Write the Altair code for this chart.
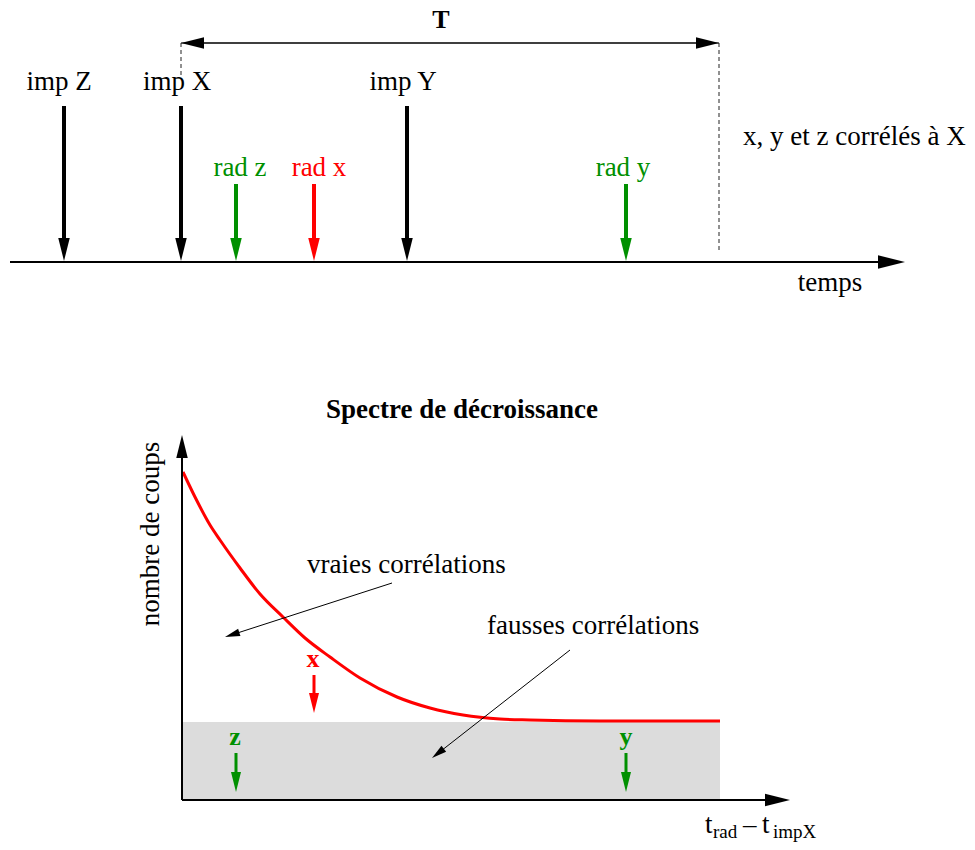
import math
import altair as alt
import pandas as pd

W, H, M = 975, 850, 8
PLOT_W, PLOT_H = W - 2 * M, H - 2 * M
FONT = "Liberation Serif"
BLACK, RED, GREEN, GREY = "#000000", "#ff0000", "#009000", "#dcdcdc"

# ---------------- top panel: time line ----------------
imp_names = ["imp Z", "imp X", "imp Y"]
imp_pos = [64, 181, 407]
imp_label_x = [59, 177, 403]
imp_top, event_tip, label_base_imp = 106, 261, 90

rad_names = ["rad z", "rad x", "rad y"]
rad_pos = [236, 314, 626]
rad_label_x = [240, 319, 623]
rad_colors = [GREEN, RED, GREEN]
rad_top, label_base_rad = 184, 176

timeline_x = [10, 905]
timeline_y = 262
window_x = [181, 719]      # T window (starts at imp X)
window_y = 43
window_dash_bottom = [75, 253]

top_texts = ["T", "x, y et z corrélés à X", "temps"]

# ---------------- bottom panel: decay spectrum ----------------
axis_origin = (182, 800)
yaxis_tip = 435
xaxis_tip = 790
background_x = [182, 720]
background_y = [722, 800]

curve_x = [183, 195, 210, 220, 240, 260, 283, 305, 330, 360, 397, 430, 463, 500, 530, 600, 660, 720]
curve_y = [472, 497, 525, 540, 568, 594, 617, 638, 657, 678, 697, 708, 715, 719, 720, 721, 721, 721]

mark_names = ["x", "z", "y"]
mark_x = [314, 236, 626]
mark_label_x = [313, 235, 626]
mark_top = [675, 753, 753]
mark_tip = [713, 792, 792]
mark_label_base = [667, 745, 745]
mark_colors = [RED, GREEN, GREEN]

notes = ["vraies corrélations", "fausses corrélations"]
notes_x = [307, 487]
notes_base = [573, 634]
notes_arrow_from = [(392, 583), (570, 650)]
notes_arrow_to = [(225, 637), (432, 758)]

# ---------------- build tables ----------------
arrows = []
for p in imp_pos:
    arrows.append((p, imp_top, p, event_tip, 4, 23, BLACK))
for p, c in zip(rad_pos, rad_colors):
    arrows.append((p, rad_top, p, event_tip, 4, 23, c))
arrows.append((timeline_x[0], timeline_y, timeline_x[1], timeline_y, 2, 27, BLACK))
arrows.append((window_x[0], window_y, window_x[1], window_y, 1.2, 23, BLACK))
arrows.append((window_x[1], window_y, window_x[0], window_y, 1.2, 23, BLACK))
arrows.append((axis_origin[0], axis_origin[1], axis_origin[0], yaxis_tip, 2, 23, BLACK))
arrows.append((axis_origin[0], axis_origin[1], xaxis_tip, axis_origin[1], 2, 25, BLACK))
for (a, b) in zip(notes_arrow_from, notes_arrow_to):
    arrows.append((a[0], a[1], b[0], b[1], 1, 15, BLACK))
for x, t0, t1, c in zip(mark_x, mark_top, mark_tip, mark_colors):
    arrows.append((x, t0, x, t1, 3, 20, c))

arr = pd.DataFrame(arrows, columns=["x0", "y0", "x1", "y1", "w", "h", "c"])
L = ((arr.x1 - arr.x0) ** 2 + (arr.y1 - arr.y0) ** 2) ** 0.5
ux, uy = (arr.x1 - arr.x0) / L, (arr.y1 - arr.y0) / L
arr["xe"] = arr.x1 - ux * arr.h * 0.6
arr["ye"] = arr.y1 - uy * arr.h * 0.6
arr["ang"] = [(math.degrees(math.atan2(-dx, dy)) + 360) % 360 for dx, dy in zip(ux, uy)]
arr["sz"] = arr.h ** 2

# data coordinates == page pixel coordinates
xs = alt.Scale(domain=[M, M + PLOT_W], nice=False, zero=False)
ys = alt.Scale(domain=[M, M + PLOT_H], nice=False, zero=False, reverse=True)


def X(f):
    return alt.X(f, type="quantitative", scale=xs, axis=None)


def Y(f):
    return alt.Y(f, type="quantitative", scale=ys, axis=None)


rect = alt.Chart(pd.DataFrame({"x0": [background_x[0]], "x1": [background_x[1]],
                               "y0": [background_y[0]], "y1": [background_y[1]]})).mark_rect(
    color=GREY).encode(x=X("x0"), x2="x1", y=Y("y0"), y2="y1")

curve = alt.Chart(pd.DataFrame({"x": curve_x, "y": curve_y})).mark_line(
    color=RED, strokeWidth=3, interpolate="monotone").encode(x=X("x"), y=Y("y"), order="x:Q")

dash_df = pd.DataFrame({"x": window_x, "y0": [window_y] * 2, "y1": window_dash_bottom})
dashes = alt.Chart(dash_df).mark_rule(color="#222222", strokeWidth=1, strokeDash=[4, 3]).encode(
    x=X("x"), y=Y("y0"), y2="y1")

shafts = alt.Chart(arr).mark_rule(strokeCap="butt").encode(
    x=X("x0"), y=Y("y0"), x2="xe", y2="ye",
    color=alt.Color("c:N", scale=None),
    strokeWidth=alt.StrokeWidth("w:Q", scale=None))

heads = alt.Chart(arr).mark_point(shape="M0,0L-0.5,-2L0.5,-2Z", filled=True, opacity=1,
                                  strokeWidth=0).encode(
    x=X("x1"), y=Y("y1"),
    color=alt.Color("c:N", scale=None),
    size=alt.Size("sz:Q", scale=None),
    angle=alt.Angle("ang:Q", scale=None))


def texts(df, **kw):
    base = dict(font=FONT, baseline="alphabetic", fontSize=27)
    base.update(kw)
    return alt.Chart(df).mark_text(**base).encode(
        x=X("x"), y=Y("y"), text="t:N", color=alt.Color("c:N", scale=None))


imp_df = pd.DataFrame({"x": imp_label_x, "y": [label_base_imp] * 3, "t": imp_names, "c": [BLACK] * 3})
rad_df = pd.DataFrame({"x": rad_label_x, "y": [label_base_rad] * 3, "t": rad_names, "c": rad_colors})
tc_df = pd.DataFrame({"x": [830], "y": [291], "t": [top_texts[2]], "c": [BLACK]})
left_df = pd.DataFrame({"x": [743] + notes_x, "y": [145] + notes_base,
                        "t": [top_texts[1]] + notes, "c": [BLACK] * 3})
t_df = pd.DataFrame({"x": [441], "y": [28], "t": [top_texts[0]], "c": [BLACK]})
title_df = pd.DataFrame({"x": [462], "y": [418], "t": ["Spectre de décroissance"], "c": [BLACK]})
mark_df = pd.DataFrame({"x": mark_label_x, "y": mark_label_base, "t": mark_names, "c": mark_colors})
ylab_df = pd.DataFrame({"x": [159], "y": [534], "t": ["nombre de coups"], "c": [BLACK]})
tmain_df = pd.DataFrame({"x": [705, 743, 762], "y": [833] * 3, "t": ["t", "\u2013", "t"], "c": [BLACK] * 3})
tsub_df = pd.DataFrame({"x": [713, 773], "y": [838] * 2, "t": ["rad", "impX"], "c": [BLACK] * 2})

layers = [
    rect, curve, dashes, shafts, heads,
    texts(imp_df, align="center"),
    texts(rad_df, align="center"),
    texts(tc_df, align="center"),
    texts(left_df, align="left"),
    texts(t_df, align="center", fontWeight="bold", fontSize=26),
    texts(title_df, align="center", fontWeight="bold"),
    texts(mark_df, align="center", fontWeight="bold", fontSize=26),
    texts(ylab_df, align="center", angle=270),
    texts(tmain_df, align="left"),
    texts(tsub_df, align="left", fontSize=19),
]

chart = alt.layer(*layers).properties(
    width=PLOT_W, height=PLOT_H, padding=0,
    autosize=alt.AutoSizeParams(type="none"),
    background="white",
).configure_view(stroke=None)

chart.save("out.html", embed_options={"renderer": "svg", "actions": False})
